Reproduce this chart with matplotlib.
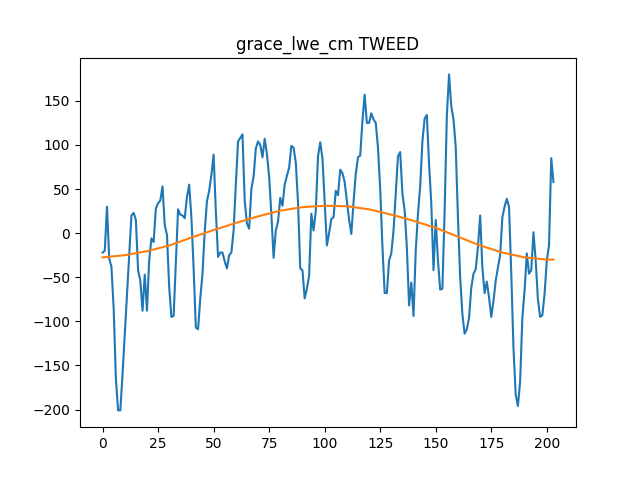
import matplotlib
matplotlib.use("Agg")
import matplotlib.pyplot as plt

title = "grace_lwe_cm TWEED"

lwe_values = [
    -22, -20, 30, -29, -38, -85, -165, -201, -201, -160,
    -115, -68, -24, 20, 23, 15, -42, -54, -88, -47,
    -88, -31, -6, -10, 28, 34, 37, 53, 9, -2,
    -61, -95, -94, -32, 27, 21, 20, 17, 41, 55,
    18, -40, -107, -109, -74, -46, 2, 36, 48, 66,
    89, 25, -27, -22, -22, -32, -40, -25, -22, 3,
    55, 104, 108, 112, 37, 11, 5, 50, 64, 96,
    104, 100, 86, 107, 90, 64, 22, -28, 3, 13,
    40, 31, 55, 65, 74, 99, 97, 80, 35, -40,
    -42, -74, -63, -48, 22, 3, 25, 87, 103, 85,
    35, -14, 0, 16, 18, 48, 43, 72, 68, 58,
    37, 15, -1, 35, 67, 86, 88, 127, 157, 125,
    125, 136, 129, 125, 97, 50, -15, -68, -68, -31,
    -23, 3, 45, 87, 92, 45, 26, -16, -82, -56,
    -94, -20, 22, 53, 104, 130, 134, 78, 34, -42,
    15, -31, -64, -63, 25, 133, 180, 144, 129, 98,
    18, -50, -92, -114, -109, -96, -62, -46, -41, -16,
    20, -39, -68, -55, -73, -95, -77, -54, -39, -25,
    18, 30, 39, 30, -45, -130, -183, -196, -168, -96,
    -65, -23, -46, -42, 1, -31, -75, -95, -93, -69,
    -31, -14, 85, 58,
]

trend_x = [0, 10, 20, 30, 40, 50, 60, 70, 80, 90, 100, 110,
           120, 130, 140, 150, 160, 170, 180, 190, 200, 203]
trend_values = [-27.5, -25, -20.5, -14, -5, 3.5, 11.5, 19, 25.5, 29.5, 31, 30.5,
                27, 21, 14, 6, -4, -14, -22, -27.5, -30, -30]

fig, ax = plt.subplots(figsize=(6.4, 4.8), dpi=100)
ax.plot(range(len(lwe_values)), lwe_values)
ax.plot(trend_x, trend_values)
ax.set_title(title)
fig.savefig("out.png")
